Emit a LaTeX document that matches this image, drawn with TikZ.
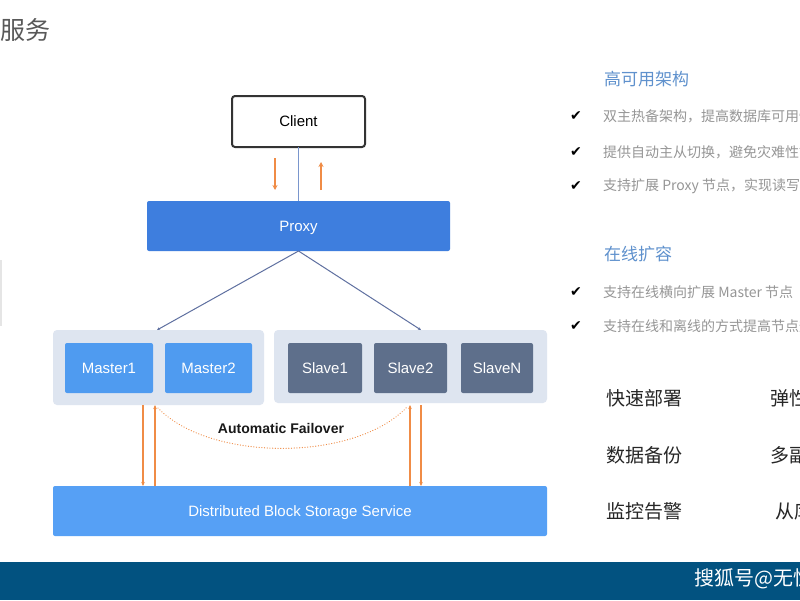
\documentclass[tikz,border=0pt]{standalone}
\usepackage{fontspec}
\setmainfont{Liberation Sans}
\newfontfamily\cjk{Noto Sans CJK SC}
\newfontfamily\symf{DejaVu Sans}
\usetikzlibrary{arrows.meta,calc}
\definecolor{proxyblue}{RGB}{62,126,222}
\definecolor{masterblue}{RGB}{79,155,240}
\definecolor{storeblue}{RGB}{86,160,245}
\definecolor{slavegrey}{RGB}{94,111,139}
\definecolor{grpbg}{RGB}{222,229,240}
\definecolor{orangeln}{RGB}{240,140,70}
\definecolor{linkblue}{RGB}{95,112,160}
\definecolor{clientln}{RGB}{122,150,205}
\definecolor{bandblue}{RGB}{2,82,128}
\definecolor{headblue}{RGB}{95,145,205}
\definecolor{greytxt}{RGB}{150,150,150}
\tikzset{
  box/.style={inner sep=0pt, outer sep=0pt, rounded corners=2pt, text=white,
    font=\fontsize{15}{18}\selectfont, text height=10.5pt, text depth=0pt},
  clientbox/.style={box, draw=black!80, line width=2pt, fill=white, text=black, rounded corners=3pt},
  proxybox/.style={box, fill=proxyblue},
  grpbox/.style={inner sep=0pt, outer sep=0pt, rounded corners=4pt, fill=grpbg},
  masterbox/.style={box, fill=masterblue},
  slavebox/.style={box, fill=slavegrey},
  storebox/.style={box, fill=storeblue},
  oarrow/.style={draw=orangeln, line width=1.8pt, -{Stealth[length=5pt,width=5pt]}},
  othin/.style={draw=orangeln, line width=1.4pt, -{Stealth[length=4pt,width=3.5pt]}},
  link/.style={draw=linkblue, line width=1pt, -{Stealth[length=3pt,width=3pt]}},
  head/.style={anchor=west, text=headblue, font=\cjk\fontsize{17}{20}\selectfont, inner sep=0pt},
  item/.style={anchor=west, text=greytxt, font=\cjk\fontsize{14}{16}\selectfont, inner sep=0pt},
  tick/.style={text=black, font=\symf\fontsize{14}{16}\selectfont, inner sep=0pt},
  feat/.style={anchor=west, text=black!85, font=\cjk\fontsize{19}{22}\selectfont, inner sep=0pt},
}
\begin{document}
\begin{tikzpicture}[x=1pt,y=-1pt]
\clip (0,0) rectangle (800,600);
\fill[white] (0,0) rectangle (800,600);

% title
\node[anchor=east, inner sep=0pt, text=black!65, font=\cjk\fontsize{25}{28}\selectfont] (title) at (51,30) {服务};
\draw[black!10, line width=1.5pt] (1,260) -- (1,326);

% nodes
\node[clientbox, minimum width=133, minimum height=51] (client) at (298.5,121.5) {Client};
\node[proxybox, minimum width=303, minimum height=50] (proxy) at (298.5,226) {Proxy};
\node[grpbox, minimum width=211, minimum height=75] (mgrp) at (158.5,367.5) {};
\node[grpbox, minimum width=273, minimum height=73] (sgrp) at (410.5,366.5) {};
\node[masterbox, minimum width=88, minimum height=50] (m1) at (109,368) {Master1};
\node[masterbox, minimum width=87, minimum height=50] (m2) at (208.5,368) {Master2};
\node[slavebox, minimum width=74, minimum height=50] (s1) at (325,368) {Slave1};
\node[slavebox, minimum width=73, minimum height=50] (s2) at (410.5,368) {Slave2};
\node[slavebox, minimum width=72, minimum height=50] (sn) at (497,368) {SlaveN};
\node[storebox, minimum width=494, minimum height=50] (store) at (300,511) {Distributed Block Storage Service};

% client - proxy
\draw[clientln, line width=1pt] (client.south) -- (proxy.north);
\draw[oarrow] ([xshift=-23.5pt,yshift=-11pt]client.south) -- ([xshift=-23.5pt,yshift=11pt]proxy.north);
\draw[oarrow] ([xshift=22.5pt,yshift=11pt]proxy.north) -- ([xshift=22.5pt,yshift=-15pt]client.south);

% proxy - groups
\draw[link] (proxy.south) -- ([xshift=-1.5pt]mgrp.north);
\draw[link] (proxy.south) -- ([xshift=10.5pt]sgrp.north);

% groups - storage
\coordinate (a1) at ([xshift=-15.5pt]mgrp.south);
\coordinate (a2) at ([xshift=-3.5pt]mgrp.south);
\coordinate (b1) at ([xshift=-0.5pt,yshift=-2pt]sgrp.south);
\coordinate (b2) at ([xshift=10.5pt,yshift=-2pt]sgrp.south);
\draw[othin] (a1) -- (a1 |- store.north);
\draw[othin] (a2 |- store.north) -- (a2);
\draw[othin] (b1 |- store.north) -- (b1);
\draw[othin] (b2) -- (b2 |- store.north);

% failover
\draw[orangeln, line width=1.2pt, dash pattern=on 0.1pt off 2.6pt, line cap=round]
  ([xshift=3pt,yshift=-3pt]a2) .. controls (210,462) and (355,462) .. ([xshift=-3pt,yshift=-2pt]b1);
\node[inner sep=0pt, font=\bfseries\fontsize{14}{16}\selectfont, text=black!90] (fail) at (281,428) {Automatic Failover};

% right panel
\node[head] (h1) at (604,79) {高可用架构};
\node[tick] (t1) at (576,116) {✔};
\node[item] (i1) at (603,116) {双主热备架构，提高数据库可用性};
\node[tick] (t2) at (576,152) {✔};
\node[item] (i2) at (603,152) {提供自动主从切换，避免灾难性故障};
\node[tick] (t3) at (576,186) {✔};
\node[item] (i3) at (603,186) {支持扩展 Proxy 节点，实现读写分离};
\node[head] (h2) at (604,254) {在线扩容};
\node[tick] (t4) at (576,292) {✔};
\node[item] (i4) at (603,292) {支持在线横向扩展 Master 节点};
\node[tick] (t5) at (576,326) {✔};
\node[item] (i5) at (603,326) {支持在线和离线的方式提高节点规格};

\node[feat] (f1) at (606,398) {快速部署};
\node[feat] (f2) at (770,398) {弹性扩展};
\node[feat] (f3) at (606,455) {数据备份};
\node[feat] (f4) at (770,455) {多副本};
\node[feat] (f5) at (606,511) {监控告警};
\node[feat] (f6) at (775,511) {从库只读};

% bottom band
\fill[bandblue] (0,562) rectangle (800,600);
\node[anchor=west, inner sep=0pt, text=white, font=\cjk\fontsize{20}{24}\selectfont] (brand) at (694,579) {搜狐号@无忧};
\end{tikzpicture}
\end{document}
